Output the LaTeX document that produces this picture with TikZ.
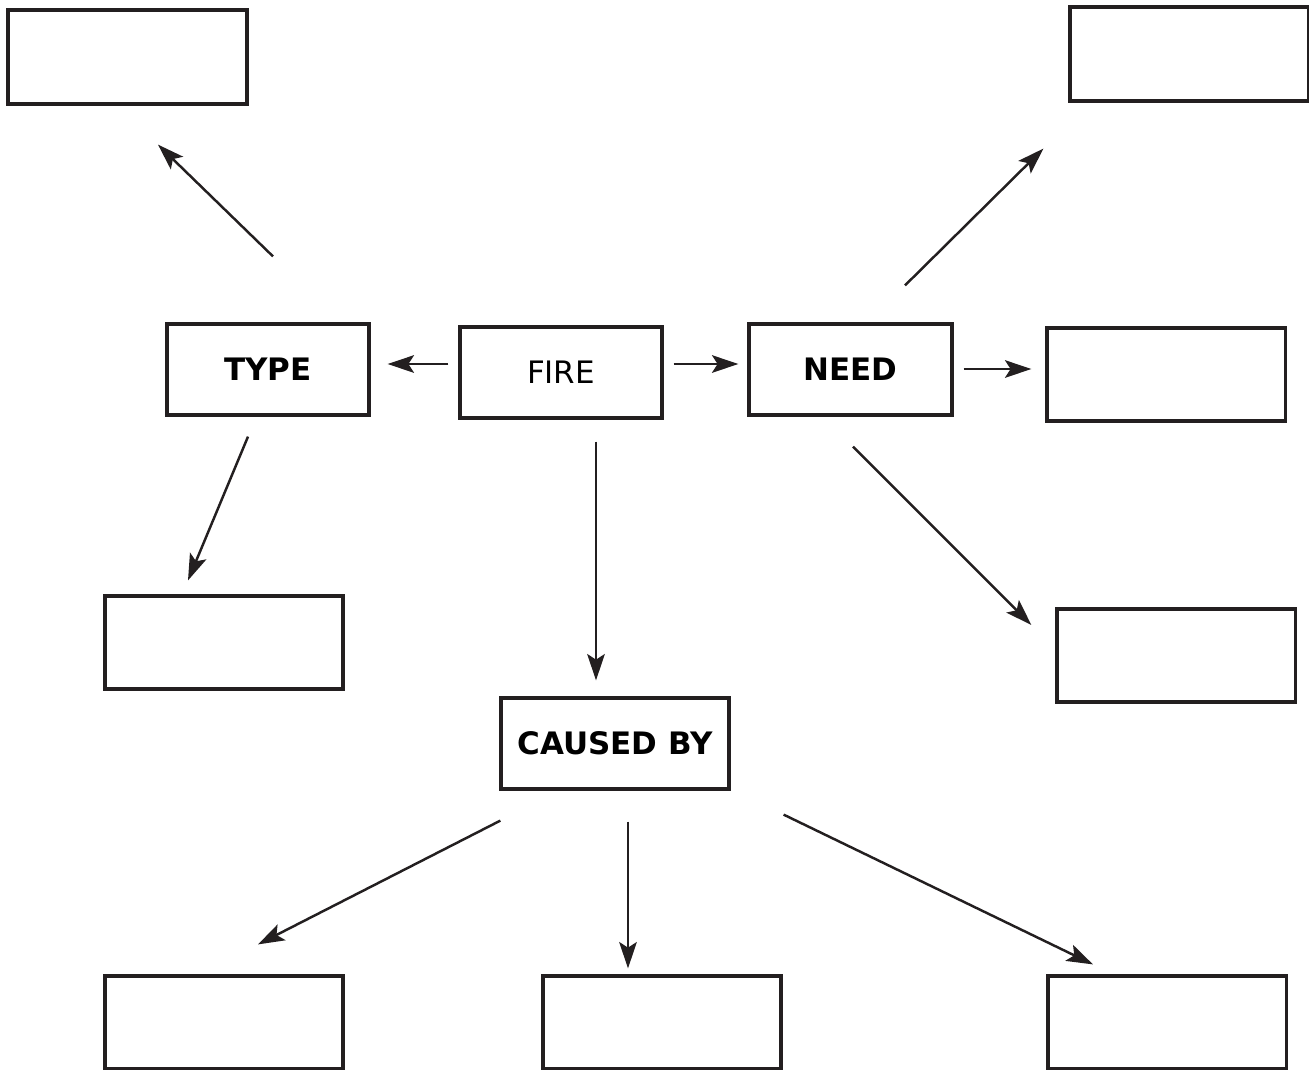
\documentclass[tikz,border=0pt]{standalone}
\usepackage{fontspec}
\setmainfont{DejaVu Sans}
\usetikzlibrary{arrows.meta}
\definecolor{ink}{HTML}{231F20}

\begin{document}
\begin{tikzpicture}[x=0.01cm, y=-0.01cm,
        box/.style={draw=ink, line width=0.9pt, inner sep=0pt, minimum width=2.38cm, minimum height=0.93cm},
        word/.style={box, minimum width=2.02cm, minimum height=0.91cm, font=\fontsize{8.8}{10}\selectfont},
        arr/.style={ink, line width=0.7pt, -{Stealth[length=7.5pt, width=5pt, inset=1.6pt]}}]
        \useasboundingbox (0, 0) rectangle (1309, 1069);
        % middle row
        \node[word] (type) at (268, 369.5) {\bfseries TYPE};
        \node[word] (fire) at (561, 372.5) {FIRE};
        \node[word, minimum width=2.03cm] (need) at (850.5, 369.5) {\bfseries NEED};
        \node[word, minimum width=2.28cm] (cause) at (615, 743.5) {\bfseries CAUSED BY};
        % empty boxes
        \node[box, minimum width=2.39cm, minimum height=0.94cm] (typeA) at (127.5, 57) {};
        \node[box] (typeB) at (224, 642.5) {};
        \node[box, minimum height=0.94cm] (needA) at (1189, 54) {};
        \node[box] (needB) at (1166, 374.5) {};
        \node[box] (needC) at (1176, 655.5) {};
        \node[box] (causeA) at (224, 1022.5) {};
        \node[box] (causeB) at (662, 1022.5) {};
        \node[box] (causeC) at (1167, 1022.5) {};
        % arrows
        \draw[arr] ([shift={(-10, -8.5)}]fire.west) -- ([shift={(17, -5.5)}]type.east);
        \draw[arr] ([shift={(10, -8.5)}]fire.east) -- ([shift={(-9, -5.5)}]need.west);
        \draw[arr] ([shift={(35, 22)}]fire.south) -- ([shift={(-19, -16)}]cause.north);
        \draw[arr] ([shift={(5, -66)}]type.north) -- ([shift={(30.5, 39)}]typeA.south);
        \draw[arr] ([shift={(-20, 20)}]type.south) -- ([shift={(-36, -14)}]typeB.north);
        \draw[arr] ([shift={(54.5, -37)}]need.north) -- ([shift={(-25, 46)}]needA.south west);
        \draw[arr] ([shift={(10, -0.5)}]need.east) -- ([shift={(-14, -5.5)}]needB.west);
        \draw[arr] ([shift={(2.5, 30)}]need.south) -- ([shift={(-24, -30.5)}]needC.west);
        \draw[arr] ([shift={(1, 30)}]cause.south west) -- ([shift={(34, -30)}]causeA.north);
        \draw[arr] ([shift={(13, 31)}]cause.south) -- ([shift={(-34, -6)}]causeB.north);
        \draw[arr] ([shift={(53, 24)}]cause.south east) -- ([shift={(-74, -10)}]causeC.north);
    \end{tikzpicture}
\end{document}
